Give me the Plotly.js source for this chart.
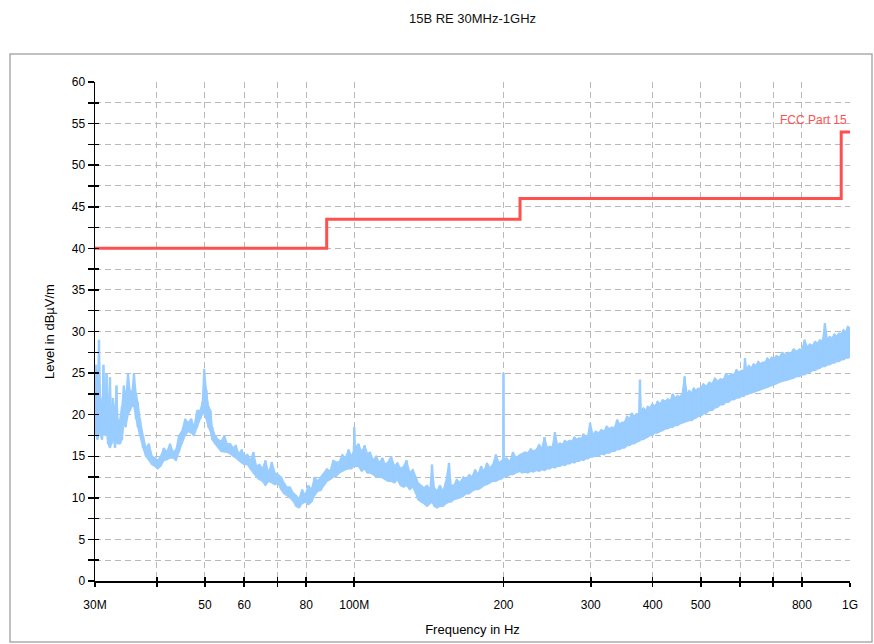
<!DOCTYPE html>
<html><head><meta charset="utf-8">
<script src="https://cdn.plot.ly/plotly-3.0.1.min.js"></script>
<style>html,body{margin:0;padding:0;background:#fff}#chart{width:874px;height:644px}</style>
</head><body><div id="chart"></div>
<script>
// Measured spectrum (frequency in MHz), upper and lower edge of the trace band
const freqMHz = [
30.0,30.14,30.35,30.56,30.77,30.99,31.2,31.43,31.65,31.87,32.16,32.4,32.6,32.92,33.15,33.38,33.69,34.0,34.3,34.6,
34.97,35.29,35.6,35.95,36.3,36.6,36.97,37.5,38.0,38.55,39.1,39.6,40.1,40.7,41.3,41.9,42.5,43.1,43.7,44.3,
44.9,45.6,46.2,46.9,47.5,48.2,48.9,49.4,49.8,50.3,50.8,51.3,51.7,52.4,53.2,53.9,54.7,55.4,56.2,57.0,
57.7,58.5,59.3,60.0,60.9,61.7,62.6,63.5,64.4,65.3,66.2,67.2,68.2,69.2,70.2,71.2,72.2,73.1,74.2,75.3,
76.3,77.4,78.5,79.6,80.8,82.0,83.2,84.4,85.6,86.9,88.1,89.4,90.7,92.0,93.3,94.6,96.0,97.4,98.8,99.6,
100.0,100.5,102.0,103.5,105.0,106.3,107.6,109.2,110.7,112.3,114.0,115.5,117.0,118.7,120.5,122.2,124.0,125.8,127.5,129.4,
131.3,133.2,134.5,136.4,138.3,140.2,142.2,143.5,145.0,146.9,148.9,151.0,153.1,155.3,156.8,158.9,161.0,163.4,166.0,168.1,
170.5,172.8,175.3,177.7,180.2,182.7,185.2,187.8,190.4,193.1,195.8,198.6,199.6,200.0,200.5,203.0,206.0,209.0,212.0,215.9,
218,221,224,227,230,233,236,239,242,245,248,251,254,257,260,263,266,269,272,275,
278,281,284,287,290,293,296,299,303,307,311,315,319,323,327,331,335,339,343,347,
351,355,359,363,367,371,375,377,379,383,387,391,395,399,404,409,414,419,424,429,
434,439,444,449,454,459,464,469,474,479,484,489,494,499,506,513,520,527,534,541,
548,555,562,569,576,583,590,597,604,611,614,618,625,632,639,646,653,660,667,674,
681,688,695,702,710,720,730,740,750,760,770,780,790,800,810,820,830,840,850,860,
870,880,890,900,910,920,930,940,950,960,970,980,990,1000
];
const levelHigh = [
22.5,26.0,23.0,29.0,22.0,20.0,26.0,21.0,25.0,20.0,24.5,19.0,22.0,20.0,23.5,19.0,19.5,21.0,23.5,22.0,
25.0,23.0,22.5,25.0,22.5,21.5,19.5,17.5,16.0,16.5,15.0,14.8,14.5,15.0,16.0,15.5,16.5,15.5,15.8,17.5,
18.0,19.5,19.0,19.5,18.5,20.5,20.5,21.5,25.5,23.0,21.0,20.5,18.5,17.5,17.0,16.8,17.5,16.5,16.5,16.0,
16.3,15.3,15.8,15.0,15.2,14.5,15.5,13.8,14.0,13.5,14.5,13.0,14.3,13.0,12.8,12.5,11.8,11.3,11.3,10.6,
10.3,9.9,11.0,10.3,11.5,11.0,12.5,12.0,12.5,13.0,13.5,13.2,14.5,14.3,14.3,15.2,14.8,15.8,15.0,15.5,
18.5,16.0,16.5,15.5,16.3,15.3,15.5,14.5,15.0,14.2,14.8,14.0,14.3,15.0,13.8,14.2,13.5,13.8,14.5,13.0,
13.4,12.5,11.8,11.5,11.2,11.5,11.0,14.0,11.2,10.8,11.5,10.8,12.0,14.2,11.5,11.5,12.2,11.8,12.5,12.2,
12.8,12.5,13.4,12.8,13.8,13.2,14.2,13.6,14.0,15.2,14.2,14.5,14.3,25.0,14.6,14.8,14.3,15.5,14.8,15.2,
15.3,15.5,15.4,15.9,15.6,15.8,16.4,15.9,17.3,16.0,16.2,16.1,17.9,16.3,16.6,16.4,16.9,16.7,16.9,16.8,
17.3,17.0,17.2,17.1,17.7,17.3,17.5,19.0,17.6,18.0,17.8,18.2,18.0,18.6,18.3,18.5,18.4,19.4,18.8,19.1,
19.1,19.8,19.5,20.2,19.8,20.1,20.1,24.2,20.4,20.8,20.5,21.0,20.8,21.3,21.0,21.6,21.3,21.8,21.6,21.9,
21.7,22.5,22.0,22.3,22.1,22.6,24.6,22.4,22.9,22.6,23.2,22.9,23.2,23.1,23.7,23.4,23.9,23.7,24.4,24.0,
24.3,24.2,24.9,24.6,24.9,24.8,25.4,25.1,25.3,25.3,26.8,25.4,25.9,25.6,26.1,25.9,26.4,26.1,26.3,26.3,
26.8,26.5,26.9,26.7,27.1,26.9,27.5,27.2,27.5,27.4,27.9,27.6,27.9,27.8,29.0,28.1,28.5,28.3,28.8,28.6,
29.0,28.8,31.0,29.0,29.4,29.2,29.7,29.4,29.8,29.7,30.2,29.9,30.6,30.4
];
const levelLow = [
17.5,18.0,17.0,18.5,17.5,17.0,18.0,17.5,18.0,16.5,16.0,16.5,17.5,16.0,17.0,16.5,16.5,17.0,19.0,18.5,
20.0,20.5,21.0,21.0,19.5,18.5,17.5,16.0,15.0,14.5,14.0,13.8,13.5,13.8,14.5,14.6,14.8,14.8,14.5,15.5,
16.5,17.5,18.0,17.8,17.5,18.5,19.5,20.0,20.5,19.5,18.5,18.0,17.0,16.5,16.0,15.6,15.5,15.5,15.3,15.0,
14.8,14.5,14.2,14.0,14.0,13.5,13.0,12.5,12.2,12.0,11.5,12.0,11.8,11.6,11.8,11.0,10.5,10.3,10.0,9.6,
9.0,8.8,9.3,9.5,9.2,9.5,10.3,10.8,10.9,11.5,12.0,12.2,12.5,12.6,13.0,13.2,13.4,13.5,13.5,13.8,
14.0,13.8,13.8,13.2,13.5,13.0,13.0,12.8,12.5,12.5,12.4,12.2,12.0,12.0,11.8,12.2,11.5,11.3,11.5,11.0,
11.3,10.5,9.8,9.5,9.3,9.0,9.3,9.5,9.0,8.8,9.0,9.0,9.3,9.5,9.5,9.8,9.9,10.0,10.2,10.5,
10.5,10.8,11.0,11.0,11.2,11.5,11.6,11.8,12.0,12.0,12.2,12.3,12.5,12.8,12.5,12.5,12.8,12.8,13.0,13.2,
13.0,13.1,13.0,13.2,13.1,13.3,13.2,13.4,13.3,13.5,13.5,13.7,13.6,13.8,13.8,14.0,13.9,14.1,14.1,14.3,
14.2,14.4,14.4,14.6,14.5,14.7,14.7,14.9,14.9,15.1,15.0,15.3,15.2,15.4,15.4,15.6,15.6,15.8,15.8,16.0,
16.0,16.3,16.3,16.5,16.5,16.7,16.8,16.9,17.0,17.0,17.2,17.3,17.5,17.5,17.8,17.8,18.0,18.1,18.3,18.3,
18.5,18.5,18.7,18.7,18.9,19.0,19.1,19.2,19.3,19.3,19.5,19.6,19.8,19.8,20.1,20.2,20.5,20.5,20.8,20.9,
21.2,21.2,21.5,21.5,21.8,21.8,22.0,22.0,22.2,22.2,22.4,22.4,22.5,22.6,22.7,22.8,22.9,23.0,23.1,23.2,
23.3,23.4,23.5,23.6,23.7,23.9,24.0,24.1,24.2,24.3,24.4,24.6,24.6,24.8,24.8,25.0,25.1,25.3,25.3,25.5,
25.6,25.8,25.8,26.0,26.0,26.2,26.2,26.4,26.4,26.6,26.6,26.8,26.8,26.9
];
// FCC Part 15 limit (dBuV/m)
const limitFreq = [30, 88, 88, 216, 216, 960, 960, 1000];
const limitLevel = [40, 40, 43.5, 43.5, 46, 46, 54, 54];
const limitName = 'FCC Part 15';
// Axis ticks
const xTickVals = [30, 40, 50, 60, 70, 80, 100, 200, 300, 400, 500, 600, 700, 800, 1000];
const xTickText = ['30M', '', '50', '60', '', '80', '100M', '200', '300', '400', '500', '', '', '800', '1G'];
const yTickVals = [0, 5, 10, 15, 20, 25, 30, 35, 40, 45, 50, 55, 60];

const FONT = 'Liberation Sans, Arial, sans-serif';
const GRID = '#b9b9b9';
const DASH = '6px,4px';
const BLUE = '#99ccff';
const xr = [Math.log10(30), Math.log10(1000)];

// closed band outline: upper edge left->right, lower edge right->left
const bandX = freqMHz.concat(freqMHz.slice().reverse());
const bandY = levelHigh.concat(levelLow.slice().reverse());
// one vertical stroke per measured frequency, from its low to its high reading
const segX = [], segY = [];
freqMHz.forEach((f, i) => { segX.push(f, f, null); segY.push(levelLow[i], levelHigh[i], null); });

const traces = [
  {x: bandX, y: bandY, type: 'scatter', mode: 'lines', fill: 'toself',
   fillcolor: BLUE, line: {color: BLUE, width: 1.5, simplify: false},
   hoverinfo: 'skip', showlegend: false},
  {x: segX, y: segY, type: 'scatter', mode: 'lines', connectgaps: false,
   line: {color: BLUE, width: 2.5, simplify: false}, hoverinfo: 'skip', showlegend: false},
  {x: limitFreq, y: limitLevel, type: 'scatter', mode: 'lines', name: limitName,
   line: {color: '#ff5050', width: 3}, showlegend: false},
  {x: [30], y: [0], xaxis: 'x2', yaxis: 'y2', type: 'scatter', mode: 'markers',
   marker: {opacity: 0}, showlegend: false, hoverinfo: 'skip'}
];

const W = 755, H = 499;
const layout = {
  width: 874, height: 644,
  margin: {l: 95, r: 24, t: 82, b: 63, pad: 0},
  paper_bgcolor: '#fff', plot_bgcolor: '#fff',
  font: {family: FONT, size: 12, color: '#000'},
  showlegend: false,
  title: {text: '15B RE 30MHz-1GHz', x: 0.5, xref: 'paper', xanchor: 'center',
          y: 1 - 18 / 644, yref: 'container', yanchor: 'middle',
          font: {family: FONT, size: 13, color: '#111'}},
  xaxis: {type: 'log', range: xr, tickmode: 'array', tickvals: xTickVals, ticktext: xTickText,
          ticks: 'outside', ticklen: 4, tickwidth: 1.5, tickcolor: '#000', ticklabelstandoff: 8,
          showline: true, linecolor: '#000', linewidth: 1.5, mirror: false,
          showgrid: true, gridcolor: GRID, gridwidth: 1, griddash: DASH, zeroline: false,
          title: {text: 'Frequency in Hz', standoff: 14, font: {family: FONT, size: 13}},
          tickfont: {family: FONT, size: 12}},
  yaxis: {range: [0, 60], tickmode: 'array', tickvals: yTickVals,
          ticks: 'outside', ticklen: 6, tickwidth: 1.5, tickcolor: '#000',
          minor: {dtick: 2.5, tick0: 0, ticks: 'outside', ticklen: 6, tickwidth: 1.5, tickcolor: '#000',
                  showgrid: true, gridcolor: GRID, gridwidth: 1, griddash: DASH},
          showline: true, linecolor: '#000', linewidth: 1.5,
          showgrid: true, gridcolor: GRID, gridwidth: 1, griddash: DASH, zeroline: false,
          title: {text: 'Level in dBµV/m', standoff: 14, font: {family: FONT, size: 13}},
          tickfont: {family: FONT, size: 12}},
  xaxis2: {type: 'log', range: xr, overlaying: 'x', anchor: 'y', side: 'bottom',
           tickmode: 'array', tickvals: xTickVals, ticks: 'inside', ticklen: 4, tickwidth: 1.5,
           tickcolor: '#000', showticklabels: false, showgrid: false, zeroline: false, showline: false},
  yaxis2: {range: [0, 60], overlaying: 'y', anchor: 'x', side: 'left',
           tickmode: 'linear', tick0: 0, dtick: 2.5, ticks: 'inside', ticklen: 4, tickwidth: 1.5,
           tickcolor: '#000', showticklabels: false, showgrid: false, zeroline: false, showline: false},
  annotations: [{x: Math.log10(1000), y: 55.4, xref: 'x', yref: 'y', text: limitName,
                 showarrow: false, xanchor: 'right', yanchor: 'middle', xshift: -1,
                 font: {family: FONT, size: 12, color: '#ff5050'}}],
  shapes: [{type: 'rect', xref: 'paper', yref: 'paper', layer: 'below',
            x0: (10 - 95) / W, x1: (872 - 95) / W, y0: (581 - 642) / H, y1: (581 - 54) / H,
            line: {color: '#acacac', width: 1.5}, fillcolor: 'rgba(0,0,0,0)'}]
};

Plotly.newPlot('chart', traces, layout, {staticPlot: true, displayModeBar: false});
</script>
</body></html>
